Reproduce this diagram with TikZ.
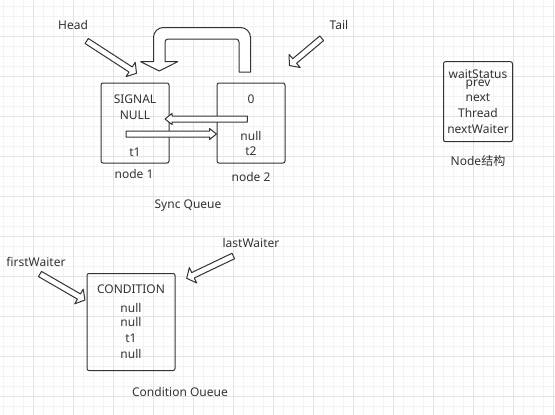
\documentclass[tikz,border=0pt]{standalone}
\usepackage{fontspec}
\setmainfont{Noto Sans}
\newfontfamily\cjk{Noto Sans CJK SC}
\usetikzlibrary{calc}
\definecolor{ink}{HTML}{333333}
\definecolor{gridlo}{HTML}{F3F3F3}
\definecolor{gridhi}{HTML}{E3E3E3}

% outlined block arrow: [head half width]{tail}{tip}
\newcommand\hollowarrow[3][8pt]{%
	\coordinate (hb) at ($(#3)!7pt!(#2)$);
	\draw[hollow] ($(#2)!3pt!90:(#3)$) -- ($(hb)!3pt!-90:(#2)$) -- ($(hb)!#1!-90:(#2)$) -- (#3)
		-- ($(hb)!#1!90:(#2)$) -- ($(hb)!3pt!90:(#2)$) -- ($(#2)!3pt!-90:(#3)$) -- cycle;
}

\begin{document}
\begin{tikzpicture}[
			x=1pt, y=-1pt,
			every node/.style={text=ink, font=\fontsize{12}{16}\selectfont},
			box/.style={draw=ink, line width=1pt, rounded corners=2pt, align=center, inner sep=0pt},
			fields/.style={anchor=north, align=center, inner sep=0pt},
			lbl/.style={anchor=base, inner sep=0pt},
			hollow/.style={draw=ink, line width=1pt, fill=white, line join=round}
		]
		\useasboundingbox (0,0) rectangle (555,415);
		\fill[white] (0,0) rectangle (555,415);
		% grid
		\foreach \gx in {3,13,...,553} \draw[gridlo, line width=1pt] (\gx,0) -- (\gx,415);
		\foreach \gy in {6,16,...,406} \draw[gridlo, line width=1pt] (0,\gy) -- (555,\gy);
		\foreach \gx in {33,73,...,553} \draw[gridhi, line width=1pt] (\gx,0) -- (\gx,415);
		\foreach \gy in {36,76,...,396} \draw[gridhi, line width=1pt] (0,\gy) -- (555,\gy);

		% sync queue
		\node[box, minimum width=68pt, minimum height=80pt] (n1) at (135,123) {};
		\node[box, minimum width=68pt, minimum height=80pt] (n2) at (251,123) {};
		\node[fields] (n1-fields) at (135,94.9) {SIGNAL\\NULL\\[20.5pt]t1};
		\node[fields] (n2-fields) at (251,94.9) {0\\[21pt]null\\[-1.5pt]t2};
		\node[lbl] (n1-name) at (134,178.5) {node 1};
		\node[lbl] (n2-name) at (251,181) {node 2};
		\node[lbl] (sync) at (188,208) {Sync Queue};
		\node[lbl] (head) at (73,29.5) {Head};
		\node[lbl] (tail) at (339,29.5) {Tail};

		\coordinate (head-from) at (86.7,41);
		\coordinate (head-to) at (136.5,73.3);
		\coordinate (tail-from) at (321.7,38.3);
		\coordinate (tail-to) at (289.3,65.5);
		\hollowarrow[8.5pt]{head-from}{head-to}
		\hollowarrow[8.5pt]{tail-from}{tail-to}

		\coordinate (prev-from) at (247.3,119);
		\coordinate (prev-to) at (165,119);
		\coordinate (next-from) at (126,134);
		\coordinate (next-to) at (n2.west |- next-from);
		\hollowarrow[5.5pt]{prev-from}{prev-to}
		\hollowarrow[5.5pt]{next-from}{next-to}

		% loop back from node 2 to node 1
		\draw[hollow] (250.5,72) [rounded corners=10pt] -- (250.5,27.5) -- (153.5,27.5)
			[sharp corners] -- (153.5,61.7) -- (140.7,61.7) -- (159.2,71) -- (177.7,61.7) -- (165,61.7)
			[rounded corners=3pt] -- (165,39) -- (239,39) [sharp corners] -- (239,72) -- cycle;

		% node structure
		\node[box, minimum width=69pt, minimum height=80pt] (struct) at (478,101.7)
			{waitStatus\\[-8pt]prev\\[-1.3pt]next\\Thread\\[0.7pt]nextWaiter};
		\node[lbl] (struct-name) at (478,165.5) {Node{\cjk 结构}};

		% condition queue
		\node[box, minimum width=88pt, minimum height=97pt] (cond) at (131,322)
			{CONDITION\\[2.3pt]null\\[-1.6pt]null\\[0.3pt]t1\\null};
		\node[lbl] (first) at (36,266) {firstWaiter};
		\node[lbl] (last) at (251,247.5) {lastWaiter};
		\node[lbl] (cond-name) at (180,396.7) {Condition Oueue};

		\coordinate (first-from) at (40,274);
		\coordinate (first-to) at (85,300);
		\coordinate (last-from) at (233.3,256);
		\coordinate (last-to) at (186.7,278.3);
		\hollowarrow[8.5pt]{first-from}{first-to}
		\hollowarrow[8.5pt]{last-from}{last-to}
	\end{tikzpicture}
\end{document}
